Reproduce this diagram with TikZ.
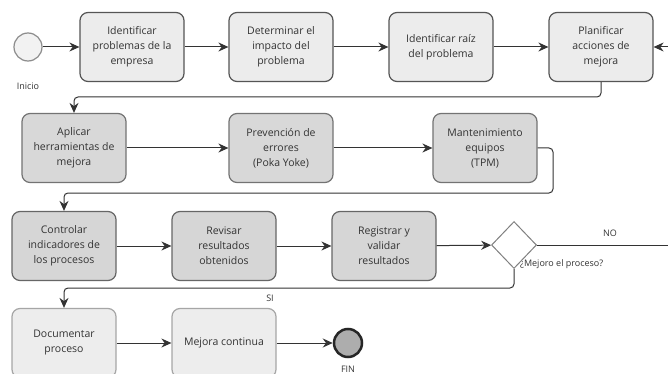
\documentclass[tikz,border=0pt]{standalone}
\usepackage{fontspec}
\setmainfont{Open Sans}
\usetikzlibrary{arrows.meta, shapes.geometric}

\definecolor{rowa}{HTML}{ECECEC}
\definecolor{rowb}{HTML}{D8D8D8}
\definecolor{rowc}{HTML}{D6D6D6}
\definecolor{rowd}{HTML}{EDEDED}
\definecolor{edge}{HTML}{555555}

\tikzset{
  box/.style={draw=edge, line width=1.2pt, rounded corners=8pt, minimum width=104pt,
    minimum height=69pt, align=center, inner sep=0pt,
    font=\fontsize{10.5}{15}\selectfont, text=black!80},
  flow/.style={-{Stealth[length=10pt,width=9pt]}, line width=1pt, black!80},
  elbow/.style={flow, rounded corners=4pt},
  tag/.style={font=\fontsize{9}{11}\selectfont, text=black!80, inner sep=1pt}
}

\begin{document}
\begin{tikzpicture}[x=1pt, y=-1pt]
\useasboundingbox[fill=white] (0,0) rectangle (668,374);
\clip (0,0) rectangle (668,374);
% Inicio
\node[circle, draw=black!45, fill=black!5, line width=1.2pt, minimum size=28pt] (inicio) at (28,47) {};
\node[tag] (inicio-t) at (28,86) {Inicio};
% fila 1
\node[box, fill=rowa] (ident) at (132,47) {Identificar\\problemas de la\\empresa};
\node[box, fill=rowa] (impacto) at (281,47) {Determinar el\\impacto del\\problema};
\node[box, fill=rowa] (raiz) at (441,47) {Identificar raíz\\del problema};
\node[box, fill=rowa] (plan) at (601,47) {Planificar\\acciones de\\mejora};
% fila 2
\node[box, fill=rowb, draw=black!55] (aplicar) at (74,148) {Aplicar\\herramientas de\\mejora};
\node[box, fill=rowb, draw=black!55] (poka) at (281,148) {Prevención de\\errores\\(Poka Yoke)};
\node[box, fill=rowb, draw=black!55] (tpm) at (485,148) {Mantenimiento\\equipos\\(TPM)};
% fila 3
\node[box, fill=rowc, draw=black!60] (controlar) at (64,246) {Controlar\\indicadores de\\los procesos};
\node[box, fill=rowc, draw=black!60] (revisar) at (224,246) {Revisar\\resultados\\obtenidos};
\node[box, fill=rowc, draw=black!60] (registrar) at (384,246) {Registrar y\\validar\\resultados};
\node[diamond, draw=black!50, fill=white, line width=1pt, minimum width=45pt, minimum height=47pt, inner sep=0pt] (mejoro) at (514,245) {};
% fila 4
\node[box, fill=rowd, draw=black!35] (documentar) at (64,343) {Documentar\\proceso};
\node[box, fill=rowd, draw=black!35] (continua) at (224,343) {Mejora continua};
\node[circle, draw=black!85, fill=black!32, line width=2.5pt, minimum size=28pt] (fin) at (348,343) {};
\node[tag] (fin-t) at (348,369) {FIN};
%Text
\node[tag] (no-t) at (610,233) {NO};
\node[tag] (si-t) at (270,298) {SI};
\node[tag, anchor=west] (pregunta) at (519,264) {¿Mejoro el proceso?};
% puntos de apoyo
\coordinate (g1) at (601,97);
\coordinate (g2) at (553,193);
\coordinate (g3) at (514,288);
\coordinate (vuelta) at (668,47);
\coordinate (salida) at (668,245);
% flechas
\draw[flow] (inicio) -- (ident);
\draw[flow] (ident) -- (impacto);
\draw[flow] (impacto) -- (raiz);
\draw[flow] (raiz) -- (plan);
\draw[flow] (vuelta) -- (plan);
\draw[elbow] (plan.south) -- (g1) -| (aplicar.north);
\draw[flow] (aplicar) -- (poka);
\draw[flow] (poka) -- (tpm);
\draw[elbow] (tpm.east) -| (g2) -| (controlar.north);
\draw[flow] (controlar) -- (revisar);
\draw[flow] (revisar) -- (registrar);
\draw[flow] (registrar) -- (mejoro);
\draw[line width=1pt, black!80] (mejoro.east) -- (salida);
\draw[elbow] (mejoro.south) -- (g3) -| (documentar.north);
\draw[flow] (documentar) -- (continua);
\draw[flow] (continua) -- (fin);
\end{tikzpicture}
\end{document}
